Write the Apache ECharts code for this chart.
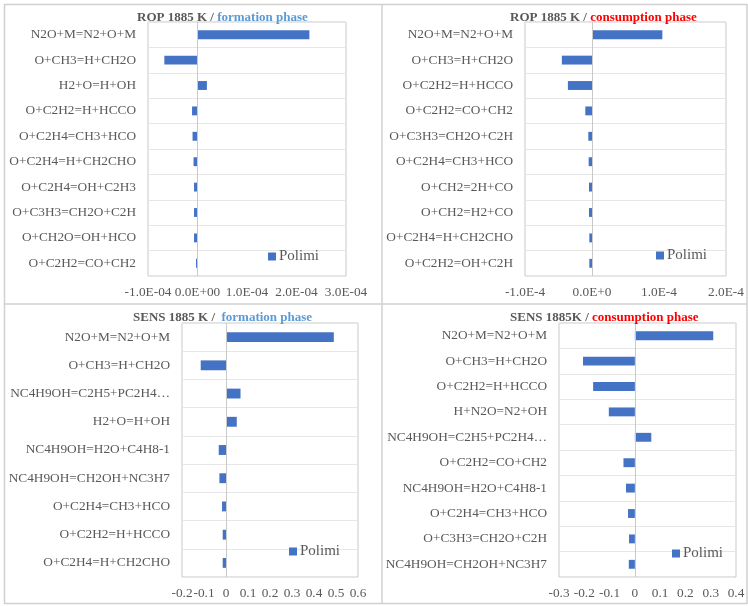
<!DOCTYPE html>
<html>
<head>
<meta charset="utf-8">
<script src="https://cdn.jsdelivr.net/npm/echarts@6/dist/echarts.min.js"></script>
<style>
html,body{margin:0;padding:0;background:#fff;}
#chart{width:748px;height:606px;}
</style>
</head>
<body>
<div id="chart"></div>
<script>
// ---- Data ----
const ropFormCats = ['N2O+M=N2+O+M','O+CH3=H+CH2O','H2+O=H+OH','O+C2H2=H+HCCO','O+C2H4=CH3+HCO','O+C2H4=H+CH2CHO','O+C2H4=OH+C2H3','O+C3H3=CH2O+C2H','O+CH2O=OH+HCO','O+C2H2=CO+CH2'];
const ropFormVals = [2.26e-4,-0.67e-4,0.19e-4,-0.11e-4,-0.10e-4,-0.08e-4,-0.07e-4,-0.07e-4,-0.07e-4,-0.03e-4];

const ropConsCats = ['N2O+M=N2+O+M','O+CH3=H+CH2O','O+C2H2=H+HCCO','O+C2H2=CO+CH2','O+C3H3=CH2O+C2H','O+C2H4=CH3+HCO','O+CH2=2H+CO','O+CH2=H2+CO','O+C2H4=H+CH2CHO','O+C2H2=OH+C2H'];
const ropConsVals = [1.05e-4,-0.45e-4,-0.36e-4,-0.10e-4,-0.055e-4,-0.05e-4,-0.045e-4,-0.045e-4,-0.04e-4,-0.04e-4];

const sensFormCats = ['N2O+M=N2+O+M','O+CH3=H+CH2O','NC4H9OH=C2H5+PC2H4…','H2+O=H+OH','NC4H9OH=H2O+C4H8-1','NC4H9OH=CH2OH+NC3H7','O+C2H4=CH3+HCO','O+C2H2=H+HCCO','O+C2H4=H+CH2CHO'];
const sensFormVals = [0.49,-0.115,0.066,0.049,-0.033,-0.03,-0.018,-0.015,-0.015];

const sensConsCats = ['N2O+M=N2+O+M','O+CH3=H+CH2O','O+C2H2=H+HCCO','H+N2O=N2+OH','NC4H9OH=C2H5+PC2H4…','O+C2H2=CO+CH2','NC4H9OH=H2O+C4H8-1','O+C2H4=CH3+HCO','O+C3H3=CH2O+C2H','NC4H9OH=CH2OH+NC3H7'];
const sensConsVals = [0.31,-0.205,-0.165,-0.103,0.065,-0.045,-0.035,-0.027,-0.023,-0.024];

const seriesName = 'Polimi';
const titlesMain = ['ROP 1885 K / ', 'ROP 1885 K / ', 'SENS 1885 K /  ', 'SENS 1885K / '];
const titlesPhase = ['formation phase', 'consumption phase', 'formation phase', 'consumption phase'];

// ---- Chart ----
const FONT = 'Liberation Serif';
const TXT = '#595959';
const BAR = '#4472c4';
const FS = 13.3;

function expFmt(pad) {
  return function (v) {
    let s = Number(v).toExponential(1);
    let m = s.split('e');
    let sign = m[1][0];
    let digits = m[1].slice(1);
    if (pad) while (digits.length < 2) digits = '0' + digits;
    return m[0] + 'E' + sign + digits;
  };
}

const panels = [
  {cats: ropFormCats, vals: ropFormVals, grid: {left:148, top:22, width:198, height:254}, min:-1e-4, max:3e-4, interval:1e-4, fmt: expFmt(true),
   title:{left:137, top:11}, phaseColor:'#5b9bd5', legend:{left:268, top:249}},
  {cats: ropConsCats, vals: ropConsVals, grid: {left:525, top:22, width:201, height:254}, min:-1e-4, max:2e-4, interval:1e-4, fmt: expFmt(false),
   title:{left:510, top:11}, phaseColor:'#ff0000', legend:{left:656, top:248}},
  {cats: sensFormCats, vals: sensFormVals, grid: {left:182, top:323, width:176, height:254}, min:-0.2, max:0.6, interval:0.1, fmt: null,
   title:{left:133, top:311}, phaseColor:'#5b9bd5', legend:{left:289, top:544}},
  {cats: sensConsCats, vals: sensConsVals, grid: {left:559, top:323, width:177, height:254}, min:-0.3, max:0.4, interval:0.1, fmt: null,
   title:{left:510, top:311}, phaseColor:'#ff0000', legend:{left:672, top:546}}
];

function numFmt(v) {
  let r = Math.round(v * 10) / 10;
  if (r === 0) return '0';
  return String(r);
}

const option = {
  animation: false,
  backgroundColor: '#fff',
  graphic: [
    {type:'rect', shape:{x:4.5, y:4.5, width:742.5, height:599}, style:{fill:'none', stroke:'#d0d0d0', lineWidth:1.5}},
    {type:'line', shape:{x1:382, y1:4.5, x2:382, y2:603.5}, style:{stroke:'#d0d0d0', lineWidth:1.5}},
    {type:'line', shape:{x1:4.5, y1:304, x2:747, y2:304}, style:{stroke:'#d0d0d0', lineWidth:1.5}}
  ],
  title: panels.map((p, i) => ({
    left: p.title.left, top: p.title.top, padding: 0,
    text: '{a|' + titlesMain[i] + '}{b|' + titlesPhase[i] + '}',
    textStyle: {
      rich: {
        a: {fontFamily: FONT, fontSize: 13, fontWeight: 'bold', color: TXT},
        b: {fontFamily: FONT, fontSize: 13, fontWeight: 'bold', color: p.phaseColor}
      }
    }
  })),
  legend: panels.map((p, i) => ({
    left: p.legend.left, top: p.legend.top, padding: 0,
    data: [seriesName], icon: 'rect', itemWidth: 8, itemHeight: 8, itemGap: 3,
    textStyle: {fontFamily: FONT, fontSize: 15, color: TXT, padding: [0,0,0,-2]},
    selectedMode: false
  })),
  grid: panels.map(p => Object.assign({show: true, borderColor: '#c9c9c9', borderWidth: 1, backgroundColor: 'transparent'}, p.grid)),
  xAxis: panels.map((p, i) => ({
    type: 'value', gridIndex: i, min: p.min, max: p.max, interval: p.interval,
    splitLine: {show: false}, axisLine: {show: false}, axisTick: {show: false},
    axisLabel: {fontFamily: FONT, fontSize: FS, color: TXT, margin: 10, formatter: p.fmt || numFmt}
  })),
  yAxis: panels.map((p, i) => ({
    type: 'category', gridIndex: i, inverse: true, data: p.cats,
    axisLine: {show: false, onZero: false}, axisTick: {show: false},
    splitLine: {show: true, interval: 0, lineStyle: {color: '#e6e6e6', width: 1}},
    axisLabel: {fontFamily: FONT, fontSize: FS, color: TXT, margin: 12, interval: 0}
  })),
  series: panels.map((p, i) => ({
    type: 'bar', name: seriesName, xAxisIndex: i, yAxisIndex: i, data: p.vals,
    barWidth: '35%', itemStyle: {color: BAR},
    markLine: {silent: true, symbol: 'none', label: {show: false},
      lineStyle: {color: '#c9c9c9', type: 'solid', width: 1}, data: [{xAxis: 0}]}
  }))
};

const chart = echarts.init(document.getElementById('chart'), null, {renderer: 'canvas'});
chart.setOption(option);
</script>
</body>
</html>
